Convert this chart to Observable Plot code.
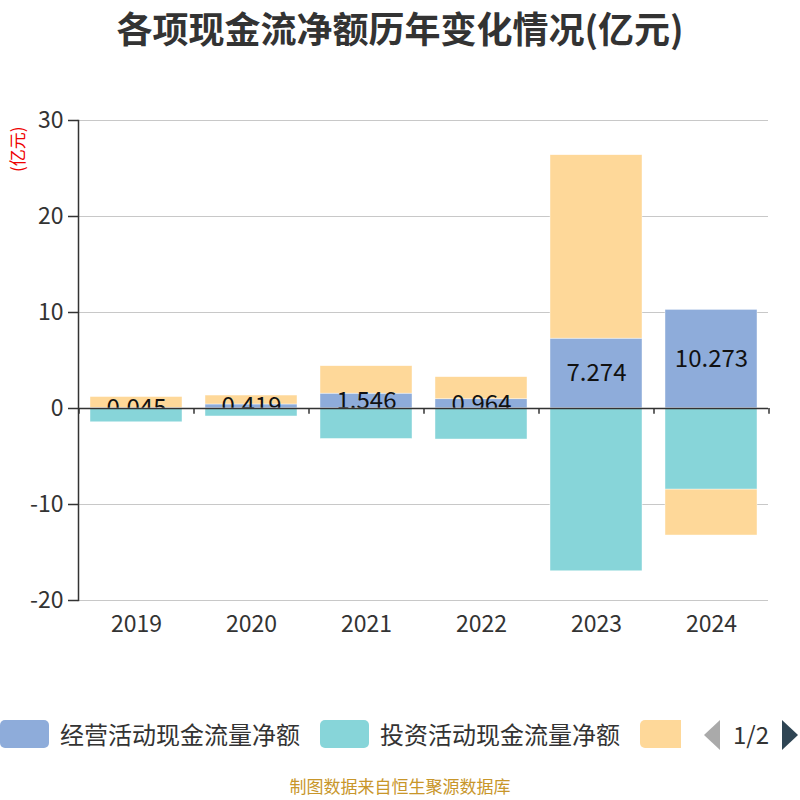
<!DOCTYPE html>
<html>
<head>
<meta charset="utf-8">
<script src="https://cdn.jsdelivr.net/npm/d3@7"></script>
<script src="https://cdn.jsdelivr.net/npm/@observablehq/plot@0.6"></script>
<style>
  body { margin: 0; background: #fff; font-family: "Noto Sans CJK SC", "Noto Sans", sans-serif; }
  #wrap { position: relative; width: 800px; height: 800px; }
  #chart { position: absolute; left: 0; top: 0; }
  .title { position: absolute; left: 0; width: 800px; top: 2px; text-align: center; font-size: 36px; font-weight: bold; color: #333; line-height: 50px; }
  .unit { position: absolute; left: 8px; top: 172px; font-size: 17px; color: #e00; transform-origin: 0 0; transform: rotate(-90deg); white-space: nowrap; line-height: 18px; }
  .legend { position: absolute; top: 716px; left: 0; height: 40px; width: 800px; font-size: 24px; color: #333; }
  .sw { position: absolute; top: 4px; width: 49px; height: 28px; border-radius: 5px; }
  .lt { position: absolute; top: 2px; line-height: 32px; white-space: nowrap; }
  .caption { position: absolute; top: 776px; left: 0; width: 800px; text-align: center; font-size: 17px; line-height: 20px; color: #c8962a; }
</style>
</head>
<body>
<div id="wrap">
  <div class="title">各项现金流净额历年变化情况(亿元)</div>
  <div id="chart"></div>
  <div class="unit">(亿元)</div>
  <div class="legend" id="legend"></div>
  <div class="caption">制图数据来自恒生聚源数据库</div>
</div>
<script>
const years = ["2019", "2020", "2021", "2022", "2023", "2024"];
const operating = [0.045, 0.419, 1.546, 0.964, 7.274, 10.273];
const investing = [-1.43, -0.83, -3.16, -3.23, -16.95, -8.44];
const financing = [1.15, 0.93, 2.86, 2.30, 19.11, -4.79];
const seriesNames = ["经营活动现金流量净额", "投资活动现金流量净额", "筹资活动现金流量净额"];
const colors = ["#8EACDA", "#87D5D9", "#FED899"];
const yTicks = [-20, -10, 0, 10, 20, 30];

const rows = [];
years.forEach((y, i) => {
  rows.push({year: y, series: seriesNames[0], value: operating[i]});
  rows.push({year: y, series: seriesNames[1], value: investing[i]});
  rows.push({year: y, series: seriesNames[2], value: financing[i]});
});
const invRows = rows.filter(d => d.series === seriesNames[1]);
const opRows = rows.filter(d => d.series === seriesNames[0]);

const chart = Plot.plot({
  width: 800,
  height: 770,
  marginTop: 120,
  marginBottom: 170,
  marginLeft: 78,
  marginRight: 32,
  style: {fontFamily: '"Noto Sans CJK SC", "Noto Sans", sans-serif', background: "transparent"},
  x: {domain: years, paddingInner: 0.2, paddingOuter: 0.1, axis: null},
  y: {domain: [-20, 30], axis: null},
  color: {domain: seriesNames, range: colors},
  marks: [
    Plot.gridY(yTicks, {stroke: "#c8c8c8", strokeOpacity: 1, strokeWidth: 1}),
    Plot.barY(rows, {x: "year", y: "value", fill: "series", stroke: "#fff", strokeWidth: 0.6, strokeOpacity: 0.7}),
    Plot.text(opRows, {x: "year", y: d => d.value / 2, text: d => String(d.value), fontSize: 24, fill: "#111"}),
    Plot.barY(invRows, {x: "year", y: "value", fill: "series", stroke: "#fff", strokeWidth: 0.6, strokeOpacity: 0.7}),
    Plot.ruleY([0], {stroke: "#333", strokeWidth: 1.5}),
    Plot.ruleX(years, {x: d => d, y1: 0, y2: -0.6, dx: -57.5, stroke: "#333", strokeWidth: 1.5}),
    Plot.ruleX(years.slice(-1), {x: d => d, y1: 0, y2: -0.6, dx: 57.5, stroke: "#333", strokeWidth: 1.5}),
    Plot.axisY(yTicks, {tickSize: 10, tickPadding: 5, fontSize: 23, color: "#333", stroke: "#333", strokeWidth: 1.5, label: null, tickFormat: d => String(d)}),
    Plot.frame({anchor: "left", stroke: "#333", strokeWidth: 1.5}),
    Plot.axisX(years, {anchor: "bottom", tickSize: 0, tickPadding: 15, fontSize: 23, color: "#333", label: null})
  ]
});
document.getElementById("chart").appendChild(chart);

// legend (paged, page 1 of 2)
const lg = document.getElementById("legend");
const items = [
  {name: seriesNames[0], color: colors[0], left: 0},
  {name: seriesNames[1], color: colors[1], left: 320},
  {name: "", color: colors[2], left: 640}
];
items.forEach(it => {
  const s = document.createElement("div");
  s.className = "sw";
  s.style.left = it.left + "px";
  s.style.background = it.color;
  if (it.name === "") { s.style.width = "41px"; s.style.borderRadius = "5px 0 0 5px"; }
  lg.appendChild(s);
  if (it.name) {
    const t = document.createElement("div");
    t.className = "lt";
    t.style.left = (it.left + 60) + "px";
    t.textContent = it.name;
    lg.appendChild(t);
  }
});
lg.insertAdjacentHTML("beforeend",
  '<svg style="position:absolute;left:700px;top:0" width="100" height="40">' +
  '<polygon points="20,4 20,34 4,19" fill="#aaa"/>' +
  '<text x="33" y="28" font-size="24" fill="#333" font-family="Noto Sans CJK SC, sans-serif">1/2</text>' +
  '<polygon points="82,4 82,34 98,19" fill="#2f4554"/>' +
  '</svg>');
</script>
</body>
</html>
